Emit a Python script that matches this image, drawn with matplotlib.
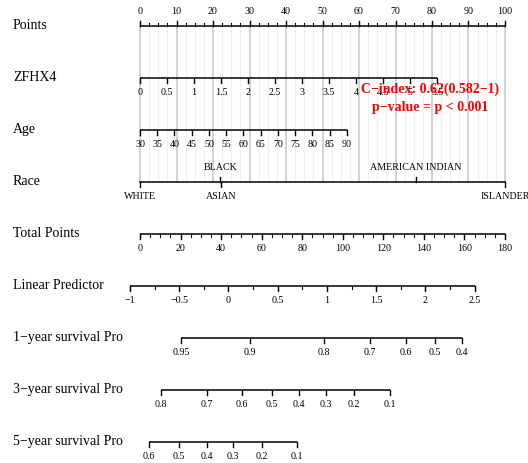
import matplotlib.pyplot as plt
import numpy as np

plt.rcParams['font.family'] = ['Liberation Serif', 'DejaVu Serif']

# ---- nomogram data (positions in "Points" units, 0-100) ----
row_names = ["Points", "ZFHX4", "Age", "Race", "Total Points", "Linear Predictor",
             "1\u2212year survival Pro", "3\u2212year survival Pro", "5\u2212year survival Pro"]

points_major = np.arange(0, 101, 10)
points_minor = np.arange(0, 100.1, 2.5)

zfhx4_vals = [0, 0.5, 1, 1.5, 2, 2.5, 3, 3.5, 4, 4.5, 5, 5.5]
zfhx4_max_points = 81.4          # points at ZFHX4 = 5.5

age_vals = [30, 35, 40, 45, 50, 55, 60, 65, 70, 75, 80, 85, 90]
age_max_points = 56.7            # points at age 90

race_labels = ["WHITE", "ASIAN", "BLACK", "AMERICAN INDIAN", "ISLANDER"]
race_points = [0, 22.3, 22.0, 75.6, 100]
race_side = ["below", "below", "above", "above", "below"]

total_major = np.arange(0, 181, 20)
total_minor = np.arange(0, 181, 5)
total_max = 180

lp_vals = [-1, -0.5, 0, 0.5, 1, 1.5, 2, 2.5]
lp_minor = np.arange(-1, 2.51, 0.25)
lp_pos_ends = (-2.74, 91.7)      # points position of LP -1 and 2.5

surv1_vals = [0.95, 0.9, 0.8, 0.7, 0.6, 0.5, 0.4]
surv1_pos = [11.2, 30.1, 50.4, 63.0, 72.8, 80.7, 88.3]
surv3_vals = [0.8, 0.7, 0.6, 0.5, 0.4, 0.3, 0.2, 0.1]
surv3_pos = [5.75, 18.4, 27.9, 36.2, 43.6, 50.9, 58.6, 68.5]
surv5_vals = [0.6, 0.5, 0.4, 0.3, 0.2, 0.1]
surv5_pos = [2.47, 10.76, 18.27, 25.56, 33.42, 42.93]

cindex_text = "C\u2212index: 0.62(0.582\u22121)"
pvalue_text = "p\u2212value = p < 0.001"


def fmt(v):
    s = f"{v:g}"
    return s.replace("-", "\u2212")


fig = plt.figure(figsize=(5.28, 4.63), dpi=100)
ax = fig.add_axes([0, 0, 1, 1])
ax.set_xlim(-140 / 3.65, (528 - 140) / 3.65)
ax.set_ylim(-0.5, 8.404)
ax.invert_yaxis()
ax.axis('off')

TICK = 0.09
MINOR = 0.05
LABEL_OFF = 0.27
tick_fs = 7.2


def draw_axis(row, pos, labels, side="below", minor_pos=None, label_pos=None):
    ax.plot([min(pos), max(pos)], [row, row], color='black', lw=1.1,
            solid_capstyle='butt', zorder=3)
    d = 1 if side == "below" else -1
    for p in pos:
        ax.plot([p, p], [row, row + d * TICK], color='black', lw=1.0, zorder=3)
    if minor_pos is not None:
        for p in minor_pos:
            ax.plot([p, p], [row, row + d * MINOR], color='black', lw=0.8, zorder=3)
    if label_pos is None:
        label_pos = pos
    for p, lab in zip(label_pos, labels):
        ax.text(p, row + d * LABEL_OFF, lab, ha='center', va='center',
                fontsize=tick_fs, zorder=3)


# vertical grid lines from Points axis to Race axis
for g in points_minor:
    major = abs(g / 10 - round(g / 10)) < 1e-9
    ax.plot([g, g], [0, 3], color='#d2d2d2' if major else '#f0f0f0',
            lw=1.4 if major else 0.9, zorder=1)

# row names
for i, name in enumerate(row_names):
    ax.text(13 / 528, i, name, transform=ax.get_yaxis_transform(),
            ha='left', va='center', fontsize=10)

# Points
draw_axis(0, points_major, [fmt(v) for v in points_major], side="above",
          minor_pos=points_minor)

# ZFHX4
zf_pos = [v / max(zfhx4_vals) * zfhx4_max_points for v in zfhx4_vals]
draw_axis(1, zf_pos, [fmt(v) for v in zfhx4_vals])

# Age
age_pos = [(v - age_vals[0]) / (age_vals[-1] - age_vals[0]) * age_max_points for v in age_vals]
draw_axis(2, age_pos, [fmt(v) for v in age_vals])

# Race
ax.plot([min(race_points), max(race_points)], [3, 3], color='black', lw=1.1, zorder=3)
for p, lab, s in zip(race_points, race_labels, race_side):
    d = 1 if s == "below" else -1
    ax.plot([p, p], [3, 3 + d * TICK], color='black', lw=1.0, zorder=3)
    ax.text(p, 3 + d * LABEL_OFF, lab, ha='center', va='center', fontsize=tick_fs, zorder=3)

# Total Points
tp_pos = [v / total_max * 100 for v in total_major]
tp_minor_pos = [v / total_max * 100 for v in total_minor]
draw_axis(4, tp_pos, [fmt(v) for v in total_major], minor_pos=tp_minor_pos)

# Linear Predictor
a, b = lp_pos_ends
lp_pos = [a + (v - lp_vals[0]) / (lp_vals[-1] - lp_vals[0]) * (b - a) for v in lp_vals]
lp_minor_pos = [a + (v - lp_vals[0]) / (lp_vals[-1] - lp_vals[0]) * (b - a) for v in lp_minor]
draw_axis(5, lp_pos, [fmt(v) for v in lp_vals], minor_pos=lp_minor_pos)

# survival axes
draw_axis(6, surv1_pos, [fmt(v) for v in surv1_vals])
draw_axis(7, surv3_pos, [fmt(v) for v in surv3_vals])
draw_axis(8, surv5_pos, [fmt(v) for v in surv5_vals])

# C-index annotation
ax.text(79.6, 1.22, cindex_text, ha='center', va='center', color='#ff0000',
        fontsize=10, fontweight='bold', zorder=5)
ax.text(79.6, 1.57, pvalue_text, ha='center', va='center', color='#ff0000',
        fontsize=10, fontweight='bold', zorder=5)

fig.savefig("out.png", dpi=100)
